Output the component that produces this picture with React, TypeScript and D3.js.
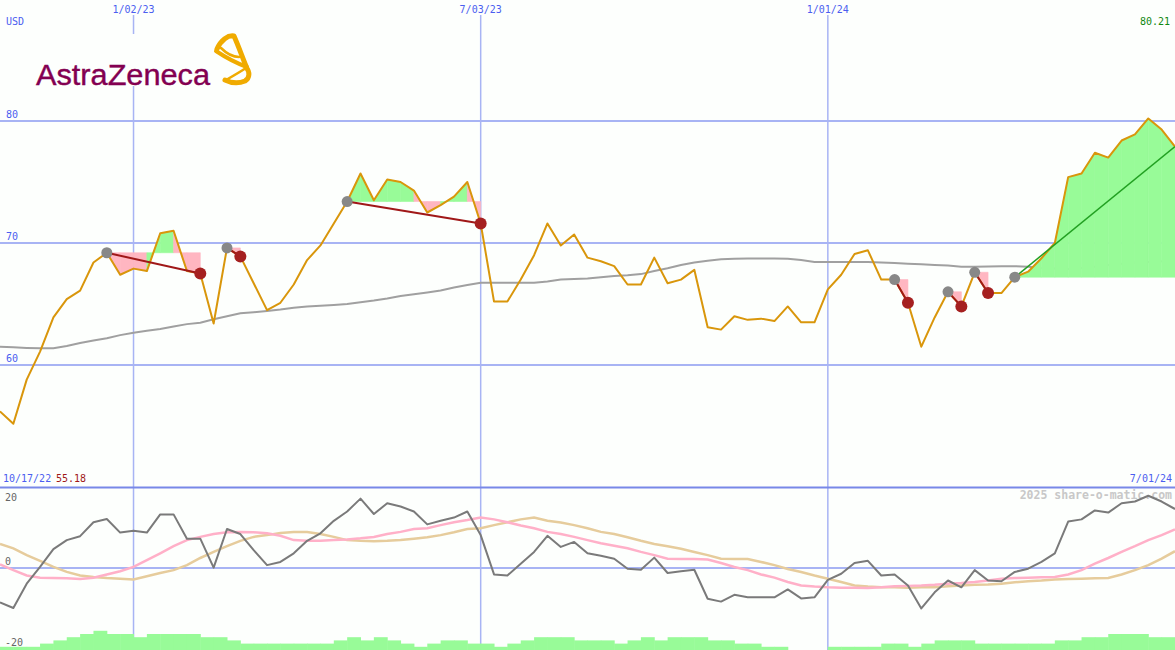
import React, { useEffect, useRef } from 'react';
import * as d3 from 'd3';

// weekly closes, 10/24/22 .. 7/01/24
const startDate = new Date(2022, 9, 24);
const endDate = new Date(2024, 6, 1);

const price = [
  56.2, 55.18, 58.8, 61.1, 63.9, 65.4, 66.1, 68.4, 69.2, 67.4,
  67.9, 67.7, 70.8, 71.0, 67.7, 67.5, 63.4, 69.6, 68.9, 66.7,
  64.5, 65.1, 66.6, 68.6, 69.8, 71.6, 73.4, 75.7, 73.5, 75.2,
  75.0, 74.3, 72.5, 73.1, 73.8, 75.0, 71.6, 65.2, 65.2, 67.0,
  69.0, 71.6, 69.8, 70.7, 68.8, 68.5, 68.1, 66.6, 66.6, 68.8,
  66.7, 67.0, 67.8, 63.1, 62.9, 64.0, 63.7, 63.8, 63.6, 64.8,
  63.5, 63.5, 66.2, 67.4, 69.1, 69.4, 67.0, 67.0, 65.1, 61.5,
  63.9, 66.0, 64.8, 67.6, 65.9, 65.9, 67.2, 67.65, 68.75, 70.0,
  75.4, 75.7, 77.4, 77.0, 78.4, 78.9, 80.21, 79.3, 77.9,
];

const movingAvg = [
  61.5, 61.45, 61.4, 61.37, 61.37, 61.55, 61.8, 62.0, 62.2, 62.45,
  62.65, 62.8, 62.95, 63.15, 63.35, 63.47, 63.75, 64.0, 64.24, 64.33,
  64.43, 64.55, 64.7, 64.8, 64.85, 64.92, 65.0, 65.15, 65.28, 65.45,
  65.66, 65.8, 65.95, 66.1, 66.35, 66.56, 66.75, 66.75, 66.75, 66.75,
  66.75, 66.85, 67.0, 67.05, 67.1, 67.2, 67.3, 67.35, 67.45, 67.7,
  67.93, 68.2, 68.4, 68.55, 68.66, 68.7, 68.72, 68.72, 68.72, 68.7,
  68.6, 68.44, 68.44, 68.44, 68.44, 68.44, 68.4, 68.36, 68.3, 68.25,
  68.2, 68.15, 68.06, 68.06, 68.08, 68.1, 68.1, 68.05, 67.95, 67.9,
  67.87, 67.95, 68.05, 68.2, 68.3, 68.38, 68.45, 68.5, 68.55,
];

const momentum = [
  -9.6, -11.2, -4.4, 0.3, 5.3, 7.8, 8.9, 12.8, 13.7, 9.9,
  10.4, 9.9, 15.0, 15.0, 8.2, 8.2, 0.1, 10.9, 9.5, 5.0,
  0.8, 1.7, 4.1, 7.6, 9.7, 13.2, 15.8, 19.4, 15.1, 18.1,
  17.2, 15.8, 12.2, 13.2, 14.1, 15.8, 9.2, -1.8, -2.1, 1.2,
  4.5, 9.0, 5.9, 7.3, 4.1, 3.4, 2.6, -0.2, -0.5, 2.9,
  -1.4, -0.9, -0.5, -8.6, -9.4, -7.5, -8.2, -8.2, -8.2, -6.0,
  -8.5, -8.2, -3.3, -1.6, 1.4, 2.0, -2.1, -1.8, -4.9, -11.3,
  -6.8, -3.5, -5.4, -0.6, -3.5, -3.7, -1.1, -0.2, 1.7, 4.1,
  13.0, 13.6, 16.1, 15.5, 18.1, 18.6, 20.2, 18.6, 16.5,
];

const signalFast = [
  1.0, -0.6, -2.1, -2.7, -2.8, -2.9, -3.1, -2.7, -1.8, -0.9,
  0.3, 2.2, 4.1, 6.1, 7.8, 8.7, 9.5, 10.0, 10.1, 10.0,
  9.7, 9.0, 7.8, 7.6, 7.6, 7.8, 8.0, 8.3, 8.7, 9.5,
  10.1, 10.9, 11.1, 12.0, 12.8, 13.4, 14.1, 13.6, 12.8, 11.9,
  11.1, 10.1, 9.5, 8.7, 7.8, 6.9, 6.2, 5.5, 4.5, 3.6,
  2.6, 2.5, 2.5, 2.4, 1.4, 0.3, -0.6, -1.8, -2.7, -3.9,
  -4.9, -5.2, -5.4, -5.5, -5.5, -5.6, -5.4, -5.1, -5.0, -4.9,
  -4.7, -4.4, -4.2, -3.9, -3.5, -3.0, -2.8, -2.7, -2.6, -2.5,
  -1.8, -0.6, 1.2, 2.8, 4.5, 6.1, 7.8, 9.2, 10.8,
];

const signalSlow = [
  6.7, 5.5, 3.6, 2.0, 0.3, -1.1, -2.1, -2.5, -2.8, -3.0,
  -3.2, -2.3, -1.4, -0.6, 0.8, 2.8, 4.5, 6.1, 7.6, 8.7,
  9.2, 9.8, 10.1, 10.1, 9.5, 8.7, 7.8, 7.6, 7.5, 7.6,
  7.8, 8.2, 8.6, 9.2, 10.0, 10.9, 11.1, 12.0, 12.8, 13.6,
  14.1, 13.2, 12.7, 12.0, 11.1, 10.1, 9.5, 8.6, 7.6, 6.7,
  6.1, 5.4, 4.5, 3.6, 2.6, 2.5, 2.5, 1.7, 0.8, -0.3,
  -1.1, -2.1, -3.0, -3.9, -4.9, -5.2, -5.4, -5.4, -5.5, -5.4,
  -5.4, -5.1, -4.9, -4.7, -4.6, -4.4, -4.0, -3.7, -3.5, -3.2,
  -3.1, -3.0, -2.9, -2.8, -1.8, -0.6, 0.8, 2.6, 4.7,
];

const volume = [
  1, 1, 1, 2, 3, 4, 5, 6, 5, 5,
  4, 5, 5, 5, 5, 4, 4, 3, 2, 2,
  2, 2, 2, 2, 2, 3, 4, 3, 4, 3,
  2, 1, 2, 3, 3, 2, 2, 1, 2, 3,
  4, 4, 4, 3, 3, 3, 2, 3, 4, 3,
  4, 4, 4, 3, 3, 2, 2, 1, 1, 0,
  0, 0, 1, 1, 1, 1, 2, 2, 1, 2,
  3, 3, 3, 2, 2, 2, 2, 2, 2, 3,
  3, 4, 4, 5, 5, 5, 4, 4, 4,
];

// trades: index of buy and sell week (last one still open)
const tradeEntry = [8, 17, 26, 67, 71, 73, 76];
const tradeExit = [15, 18, 36, 68, 72, 74, 88];
const openTrade = 6;

const dateTicks = ['1/02/23', '7/03/23', '1/01/24'];
const priceTicks = [60, 70, 80];
const momentumTicks = [20, 0, -20];

const W = 1175;
const H = 650;
const BLUE_TEXT = '#4b5ef0';
const GRID = '#a8b4f4';

const App: React.FC = () => {
  const svgRef = useRef<SVGSVGElement | null>(null);

  useEffect(() => {
    if (!svgRef.current) return;
    const svg = d3.select(svgRef.current);
    svg.selectAll('*').remove();

    const dates = price.map((_, i) => d3.timeDay.offset(startDate, i * 7));
    const parse = d3.timeParse('%m/%d/%y');

    const x = d3.scaleTime().domain([startDate, endDate]).range([0, W]);
    const y = d3.scaleLinear().domain([60, 80]).range([365, 121]);
    const ym = d3.scaleLinear().domain([-20, 20]).range([639.5, 496.5]);
    const yv = d3.scaleLinear().domain([0, 6]).range([H, H - 19.2]);

    svg.append('rect').attr('width', W).attr('height', H).attr('fill', '#fdfffd');

    // vertical date grid
    dateTicks.forEach((t) => {
      const d = parse(t) as Date;
      svg.append('line')
        .attr('x1', x(d)).attr('x2', x(d))
        .attr('y1', 15).attr('y2', H)
        .attr('stroke', GRID).attr('stroke-width', 1.5);
      svg.append('text')
        .attr('x', x(d)).attr('y', 13)
        .attr('text-anchor', 'middle')
        .text(t)
        .style('font', '10px "DejaVu Sans Mono"')
        .style('fill', BLUE_TEXT);
    });

    // price grid
    priceTicks.forEach((p) => {
      svg.append('line')
        .attr('x1', 0).attr('x2', W)
        .attr('y1', y(p)).attr('y2', y(p))
        .attr('stroke', GRID).attr('stroke-width', 2);
      svg.append('text')
        .attr('x', 6).attr('y', y(p) - 3)
        .text(p)
        .style('font', '10px "DejaVu Sans Mono"')
        .style('fill', BLUE_TEXT);
    });

    svg.append('text').attr('x', 6).attr('y', 25).text('USD')
      .style('font', '10px "DejaVu Sans Mono"').style('fill', BLUE_TEXT);
    svg.append('text').attr('x', 1170).attr('y', 25).attr('text-anchor', 'end')
      .text(d3.max(price)!.toFixed(2))
      .style('font', '10px "DejaVu Sans Mono"').style('fill', '#118811');

    // logo
    const logo = svg.append('g');
    logo.append('rect').attr('x', 30).attr('y', 34).attr('width', 225).attr('height', 52).attr('fill', '#fdfffd');
    logo.append('text')
      .attr('x', 36).attr('y', 85)
      .attr('textLength', 174)
      .attr('lengthAdjust', 'spacingAndGlyphs')
      .text('AstraZeneca')
      .style('font', '30px "Liberation Sans"')
      .style('fill', '#830051')
      .style('stroke', '#830051')
      .style('stroke-width', 0.4);
    const orange = '#f0ab00';
    [
      ['M217,49 C221,40 228,35 234,36 C238,45 242,56 246,66', 5],
      ['M216,51 C225,57 236,63 247,67', 4],
      ['M221,48 C227,54 233,57 239,57', 2.5],
      ['M246,67 C250,72 250,78 245,81 C238,84 231,83 225,80', 5],
      ['M226,80 C233,76 240,72 246,68', 2.5],
    ].forEach(([d, w]) => {
      logo.append('path').attr('d', d as string)
        .attr('fill', 'none').attr('stroke', orange)
        .attr('stroke-width', w as number)
        .attr('stroke-linecap', 'round').attr('stroke-linejoin', 'round');
    });

    // moving average
    const priceLine = d3.line<number>().x((_, i) => x(dates[i])).y((d) => y(d));
    svg.append('path').attr('d', priceLine(movingAvg))
      .attr('fill', 'none').attr('stroke', '#a0a0a0').attr('stroke-width', 2);

    // trade gain / loss fills
    tradeEntry.forEach((e, t) => {
      const level = price[e];
      for (let i = e; i < tradeExit[t]; i++) {
        const pts: [number, number][] = [
          [x(dates[i]), y(level)],
          [x(dates[i]), y(price[i])],
          [x(dates[i + 1]), y(price[i + 1])],
          [x(dates[i + 1]), y(level)],
        ];
        const col = price[i + 1] >= level ? '#98fb98' : '#ffb6c1';
        svg.append('path')
          .attr('d', d3.line()(pts) + 'Z')
          .attr('fill', col)
          .attr('stroke', col)
          .attr('stroke-width', 0.6);
      }
    });

    // price line
    svg.append('path').attr('d', priceLine(price))
      .attr('fill', 'none').attr('stroke', '#d9960b').attr('stroke-width', 2)
      .attr('stroke-linejoin', 'round');

    // trade lines and markers
    tradeEntry.forEach((e, t) => {
      const s = tradeExit[t];
      svg.append('line')
        .attr('x1', x(dates[e])).attr('y1', y(price[e]))
        .attr('x2', x(dates[s])).attr('y2', y(price[s]))
        .attr('stroke', t === openTrade ? '#22a022' : '#a01818')
        .attr('stroke-width', t === openTrade ? 1.5 : 2);
    });
    tradeEntry.forEach((e) => {
      svg.append('circle').attr('cx', x(dates[e])).attr('cy', y(price[e]))
        .attr('r', 5.5).attr('fill', '#888888');
    });
    tradeExit.forEach((s, t) => {
      if (t === openTrade) return;
      svg.append('circle').attr('cx', x(dates[s])).attr('cy', y(price[s]))
        .attr('r', 6).attr('fill', '#a52020');
    });

    // ---- lower panel ----
    svg.append('line').attr('x1', 0).attr('x2', W).attr('y1', 487.5).attr('y2', 487.5)
      .attr('stroke', '#7888e8').attr('stroke-width', 2);
    svg.append('line').attr('x1', 0).attr('x2', W).attr('y1', ym(0)).attr('y2', ym(0))
      .attr('stroke', GRID).attr('stroke-width', 2);

    svg.append('text').attr('x', 3).attr('y', 482).text('10/17/22')
      .style('font', '10px "DejaVu Sans Mono"').style('fill', BLUE_TEXT);
    svg.append('text').attr('x', 56).attr('y', 482).text(d3.min(price)!.toFixed(2))
      .style('font', '10px "DejaVu Sans Mono"').style('fill', '#a01818');
    svg.append('text').attr('x', 1172).attr('y', 482).attr('text-anchor', 'end')
      .text('7/01/24')
      .style('font', '10px "DejaVu Sans Mono"').style('fill', BLUE_TEXT);

    // volume bars
    const barW = x(dates[1]) - x(dates[0]);
    svg.append('g').selectAll('rect').data(volume).join('rect')
      .attr('x', (_, i) => x(dates[i]))
      .attr('width', barW + 0.5)
      .attr('y', (d) => yv(d))
      .attr('height', (d) => H - yv(d))
      .attr('fill', '#98fb98');

    svg.append('text').attr('x', 1172).attr('y', 499).attr('text-anchor', 'end')
      .text('2025 share-o-matic.com')
      .style('font', 'bold 11.5px "DejaVu Sans Mono"').style('fill', '#c8c8c8');

    momentumTicks.forEach((m) => {
      svg.append('text').attr('x', 5).attr('y', ym(m) + (m === 20 ? 4 : m === 0 ? -3 : 6))
        .text(m)
        .style('font', '10px "DejaVu Sans Mono"').style('fill', '#666666');
    });

    const mLine = d3.line<number>().x((_, i) => x(dates[i])).y((d) => ym(d));
    svg.append('path').attr('d', mLine(signalSlow))
      .attr('fill', 'none').attr('stroke', '#e6cc9c').attr('stroke-width', 2.5);
    svg.append('path').attr('d', mLine(signalFast))
      .attr('fill', 'none').attr('stroke', '#ffb0c8').attr('stroke-width', 2.5);
    svg.append('path').attr('d', mLine(momentum))
      .attr('fill', 'none').attr('stroke', '#7a7a7a').attr('stroke-width', 2)
      .attr('stroke-linejoin', 'round');
  }, []);

  return (
    <svg ref={svgRef} width={W} height={H} style={{ position: 'absolute', left: 0, top: 0 }}></svg>
  );
};

export default App;
